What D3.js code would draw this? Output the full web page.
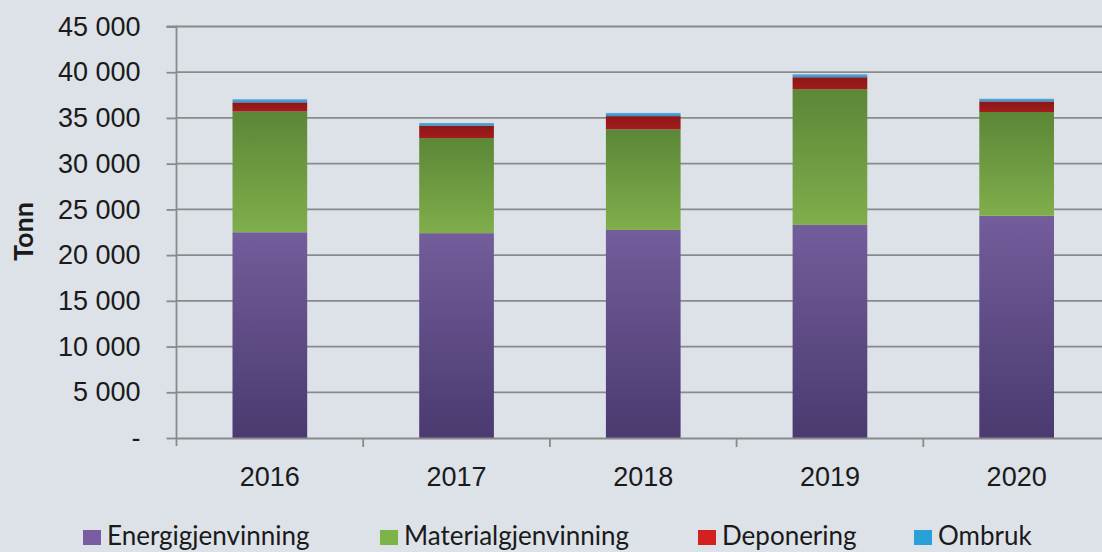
<!DOCTYPE html>
<html>
<head>
<meta charset="utf-8">
<script src="https://cdn.jsdelivr.net/npm/d3@7"></script>
<style>
  html, body { margin: 0; padding: 0; background: #dde1e8; }
  svg { display: block; font-family: Lato, "Open Sans", sans-serif; }
</style>
</head>
<body>
<svg id="chart" width="1102" height="552"></svg>
<script>
// Data
const years = ["2016", "2017", "2018", "2019", "2020"];
const energigjenvinning = [22500, 22400, 22750, 23300, 24300];
const materialgjenvinning = [13200, 10400, 11000, 14850, 11350];
const deponering = [1000, 1350, 1450, 1300, 1150];
const ombruk = [350, 300, 350, 330, 300];
const yTicks = [0, 5000, 10000, 15000, 20000, 25000, 30000, 35000, 40000, 45000];

const seriesNames = ["Energigjenvinning", "Materialgjenvinning", "Deponering", "Ombruk"];
const seriesValues = [energigjenvinning, materialgjenvinning, deponering, ombruk];

const margin = { left: 176.5, right: -8, top: 26.5, bottom: 114 };
const width = 1102 - margin.left - margin.right;
const height = 552 - margin.top - margin.bottom;

const svg = d3.select("#chart");

// gradients for the bars (top colour, bottom colour)
const gradients = [
  ["#735d9b", "#4a3a6f"],
  ["#5b8737", "#80ae4b"],
  ["#8c1617", "#a31c1c"],
  ["#5aaee0", "#3a8cc0"]
];
const legendColors = ["#7a5ca3", "#7db347", "#d2201f", "#2a9fd8"];

const defs = svg.append("defs");
gradients.forEach((g, i) => {
  const lg = defs.append("linearGradient")
    .attr("id", `grad${i}`)
    .attr("x1", 0).attr("y1", 0).attr("x2", 0).attr("y2", 1);
  lg.append("stop").attr("offset", "0%").attr("stop-color", g[0]);
  lg.append("stop").attr("offset", "100%").attr("stop-color", g[1]);
});

// build table for the stack
const table = years.map((year, i) => {
  const row = { year };
  seriesNames.forEach((name, s) => { row[name] = seriesValues[s][i]; });
  return row;
});
const stacked = d3.stack().keys(seriesNames)(table);

const g = svg.append("g")
  .attr("transform", `translate(${margin.left}, ${margin.top})`);

const xScale = d3.scaleBand()
  .domain(years)
  .range([0, width])
  .paddingInner(0.6)
  .paddingOuter(0.3);

const yScale = d3.scaleLinear()
  .domain([0, 45000])
  .range([height, 0]);

const locale = d3.formatLocale({ decimal: ",", thousands: " ", grouping: [3], currency: ["", ""] });
const fmt = locale.format(",d");

// gridlines
g.append("g")
  .selectAll("line")
  .data(yTicks.filter(d => d > 0))
  .join("line")
  .attr("x1", 0)
  .attr("x2", width)
  .attr("y1", d => yScale(d))
  .attr("y2", d => yScale(d))
  .attr("stroke", "#8a8a8a")
  .attr("stroke-width", 1.8);

// bars
g.append("g")
  .selectAll("g")
  .data(stacked)
  .join("g")
  .attr("fill", (d, i) => `url(#grad${i})`)
  .selectAll("rect")
  .data(d => d)
  .join("rect")
  .attr("x", d => xScale(d.data.year))
  .attr("width", xScale.bandwidth())
  .attr("y", d => yScale(d[1]))
  .attr("height", d => yScale(d[0]) - yScale(d[1]));

// Y axis
const yAxis = g.append("g")
  .call(
    d3.axisLeft(yScale)
      .tickValues(yTicks)
      .tickSize(10)
      .tickPadding(26)
      .tickFormat(d => d === 0 ? "-" : fmt(d))
  );
yAxis.select(".domain").attr("stroke", "#8a8a8a").attr("stroke-width", 1.8)
  .attr("d", `M-10,0H0V${height + 8}`);
yAxis.selectAll(".tick line").attr("stroke", "#8a8a8a").attr("stroke-width", 1.8);
yAxis.selectAll(".tick text")
  .attr("fill", "#1a1a1a")
  .attr("font-size", 27);

// X axis
const xAxis = g.append("g")
  .attr("transform", `translate(0, ${height})`)
  .call(d3.axisBottom(xScale).tickSize(0).tickPadding(29));
xAxis.select(".domain").attr("stroke", "#8a8a8a").attr("stroke-width", 1.8);
xAxis.selectAll(".tick text")
  .attr("fill", "#1a1a1a")
  .attr("font-size", 27);

// category separator ticks
g.append("g")
  .selectAll("line")
  .data(years.slice(1))
  .join("line")
  .attr("x1", d => xScale(d) - xScale.step() * xScale.paddingInner() / 2)
  .attr("x2", d => xScale(d) - xScale.step() * xScale.paddingInner() / 2)
  .attr("y1", height)
  .attr("y2", height + 9)
  .attr("stroke", "#8a8a8a")
  .attr("stroke-width", 1.8);

// Y title
svg.append("text")
  .attr("transform", `translate(33, ${margin.top + 205}) rotate(-90)`)
  .attr("text-anchor", "middle")
  .attr("font-size", 27)
  .attr("font-weight", "bold")
  .attr("fill", "#1a1a1a")
  .text("Tonn");

// legend
const legendX = [83, 380, 698, 914];
const legend = svg.append("g")
  .selectAll("g")
  .data(seriesNames)
  .join("g")
  .attr("transform", (d, i) => `translate(${legendX[i]}, 545)`);
legend.append("rect")
  .attr("x", 0)
  .attr("y", -15)
  .attr("width", 18)
  .attr("height", 15)
  .attr("fill", (d, i) => legendColors[i]);
legend.append("text")
  .attr("x", 24)
  .attr("y", 0)
  .attr("font-size", 26)
  .attr("fill", "#1a1a1a")
  .text(d => d);
</script>
</body>
</html>
